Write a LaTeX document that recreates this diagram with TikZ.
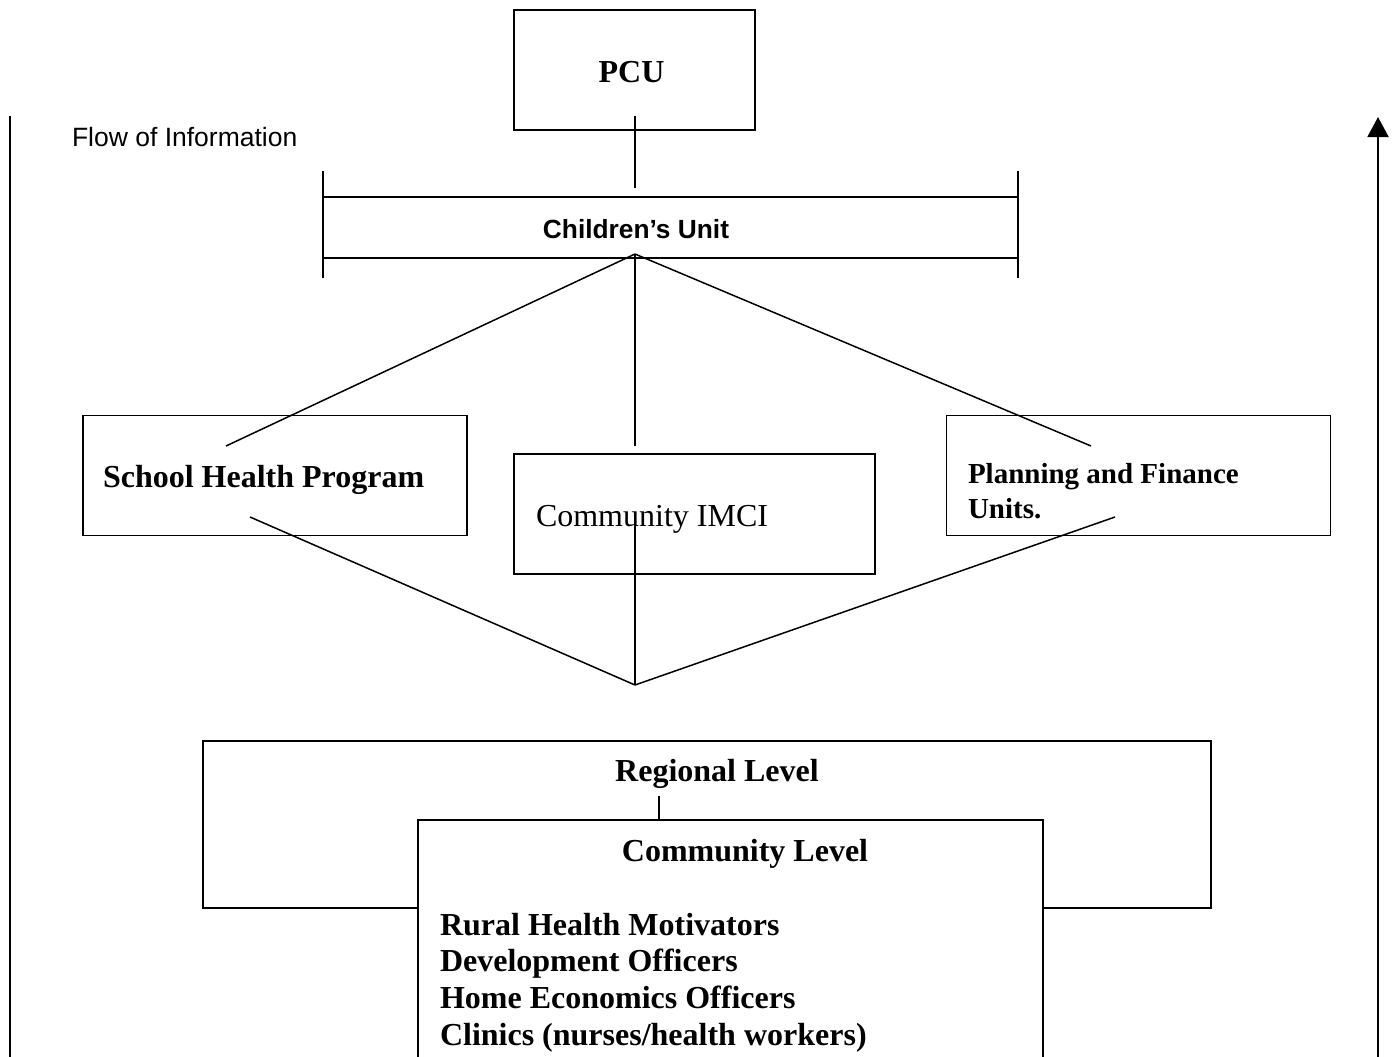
\documentclass[tikz,border=0pt]{standalone}
\usepackage{fontspec}
\setmainfont{Liberation Serif}
\setsansfont{Liberation Sans}
\usetikzlibrary{arrows.meta}
\begin{document}
\begin{tikzpicture}[x=1pt,y=-1pt,line width=1.5pt,
  box/.style={draw, rectangle, inner sep=0pt, outer sep=0pt, line width=1.9pt},
  lbl/.style={inner sep=0pt, outer sep=0pt},
  serifbold/.style={font=\fontsize{32}{36.5}\selectfont\bfseries},
  serifboldsmall/.style={font=\fontsize{29}{35}\selectfont\bfseries},
  serifreg/.style={font=\fontsize{32}{36.5}\selectfont},
  sansbold/.style={font=\fontsize{26.3}{30}\selectfont\sffamily\bfseries},
  sansreg/.style={font=\fontsize{26.5}{30}\selectfont\sffamily},
  conn/.style={line width=1.5pt},
  bar/.style={line width=1.9pt}]
\useasboundingbox (0,0) rectangle (1397,1057);

% ---- boxes ----
\node[box, minimum width=241pt, minimum height=120pt] (pcu) at (634.5,70) {};
\node[box, minimum width=384pt, minimum height=120pt] (shp) at (275,475.5) {};
\node[box, minimum width=361pt, minimum height=120pt] (imci) at (694.5,514) {};
\node[box, minimum width=384pt, minimum height=120pt] (pfu) at (1138.5,475.5) {};
\node[box, minimum width=1008pt, minimum height=167pt] (reg) at (707,824.5) {};

% community level box (runs off the page bottom)
\coordinate (comBL) at (418,1060);
\coordinate (comTL) at (418,820);
\coordinate (comTR) at (1043,820);
\coordinate (comBR) at (1043,1060);
\fill[white] (comBL) -- (comTL) -- (comTR) -- (comBR) -- cycle;
\draw[bar] (comBL) -- (comTL) -- (comTR) -- (comBR);

% ---- Children's Unit bar ----
\coordinate (cuTL) at (323,197);
\coordinate (cuTR) at (1018,197);
\coordinate (cuBL) at (323,258);
\coordinate (cuBR) at (1018,258);
\coordinate (tickLt) at (323,171);
\coordinate (tickLb) at (323,278);
\coordinate (tickRt) at (1018,171);
\coordinate (tickRb) at (1018,278);
\draw[bar] (cuTL) -- (cuTR);
\draw[bar] (cuBL) -- (cuBR);
\draw[bar] (tickLt) -- (tickLb);
\draw[bar] (tickRt) -- (tickRb);

% ---- labels ----
\node[lbl, serifbold, anchor=base] (pcuT) at (631.5,82) {PCU};
\node[lbl, sansbold, anchor=base] (cuT) at (636,238) {Children’s Unit};
\node[lbl, sansreg, anchor=base west] (flowT) at (72,146) {Flow of Information};
\node[lbl, serifbold, anchor=base west] (shpT) at (103,487) {School Health Program};
\node[lbl, serifreg, anchor=base west] (imciT) at (536,526) {Community IMCI};
\node[lbl, serifboldsmall, anchor=base west] (pfuT1) at (968,483) {Planning and Finance};
\node[lbl, serifboldsmall, anchor=base west] (pfuT2) at (968,518) {Units.};
\node[lbl, serifbold, anchor=base] (regT) at (717,781) {Regional Level};
\node[lbl, serifbold, anchor=base] (comT) at (745,861) {Community Level};
\node[lbl, serifbold, anchor=base west] (l1) at (440,935) {Rural Health Motivators};
\node[lbl, serifbold, anchor=base west] (l2) at (440,971) {Development Officers};
\node[lbl, serifbold, anchor=base west] (l3) at (440,1008) {Home Economics Officers};
\node[lbl, serifbold, anchor=base west] (l4) at (440,1045) {Clinics (nurses/health workers)};

% ---- connectors ----
\coordinate (pcuIn) at (635,116);
\coordinate (cuTop) at (635,188);
\draw[conn] (pcuIn) -- (cuTop);

\coordinate (apex) at (635,254);
\coordinate (shpIn) at (226,446);
\coordinate (imciTop) at (635,446);
\coordinate (pfuIn) at (1091,446);
\draw[conn] (apex) -- (shpIn);
\draw[conn] (apex) -- (imciTop);
\draw[conn] (apex) -- (pfuIn);

\coordinate (shpOut) at (250,517);
\coordinate (imciIn) at (635,526);
\coordinate (pfuOut) at (1115,517);
\coordinate (vee) at (635,685);
\draw[conn] (shpOut) -- (vee);
\draw[conn] (imciIn) -- (vee);
\draw[conn] (pfuOut) -- (vee);

\coordinate (regIn) at (659,796);
\draw[conn] (regIn) -- (comTL -| regIn);

% ---- flow of information side lines ----
\coordinate (flowLtop) at (10,116);
\coordinate (flowLbot) at (10,1060);
\draw[bar] (flowLtop) -- (flowLbot);
\coordinate (flowRbot) at (1378,1060);
\coordinate (flowRtop) at (1378,117);
\draw[bar, -{Triangle[width=21pt,length=20pt]}] (flowRbot) -- (flowRtop);
\end{tikzpicture}
\end{document}
